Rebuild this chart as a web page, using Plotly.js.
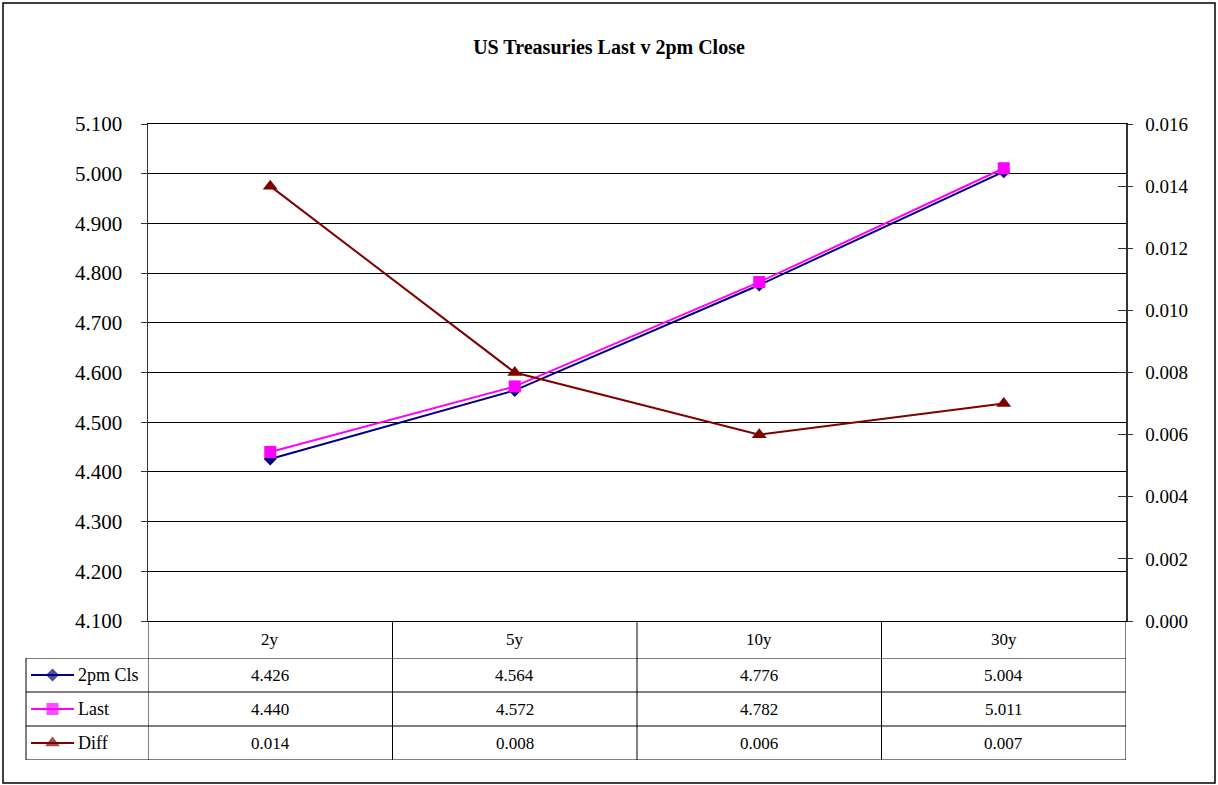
<!DOCTYPE html>
<html>
<head>
<meta charset="utf-8">
<script src="https://cdn.plot.ly/plotly-3.0.1.min.js"></script>
<style>html,body{margin:0;padding:0;background:#fff;}#chart{width:1218px;height:785px;}</style>
</head>
<body>
<div id="chart"></div>
<script>
// ---- data ----
const categories = ["2y", "5y", "10y", "30y"];
const seriesNames = ["2pm Cls", "Last", "Diff"];
const cls2pm = [4.426, 4.564, 4.776, 5.004];
const last = [4.440, 4.572, 4.782, 5.011];
const diff = [0.014, 0.008, 0.006, 0.007];
const chartTitle = "US Treasuries Last v 2pm Close";

// ---- layout constants (pixels) ----
const W = 1218, H = 785;
const PX = v => v / W;
const PY = v => 1 - v / H;
const FONT = "Liberation Serif, Times New Roman, serif";
const colors = ["#000080", "#FF00FF", "#800000"];
const symbols = ["diamond", "square", "triangle-up"];
const msizes = [10, 12, 13];
const seriesData = [cls2pm, last, diff];
const yaxes = ["y", "y", "y2"];

const traces = [];
seriesData.forEach((vals, i) => {
  traces.push({
    type: "scatter", mode: "lines+markers", name: seriesNames[i],
    x: categories, y: vals, xaxis: "x", yaxis: yaxes[i],
    line: {color: colors[i], width: 2},
    marker: {symbol: symbols[i], size: msizes[i], color: colors[i], line: {width: 0}},
    showlegend: false, hoverinfo: "skip"
  });
});
// legend keys in the data table (row index axis)
seriesNames.forEach((n, i) => {
  traces.push({
    type: "scatter", mode: "lines+markers", xaxis: "x3", yaxis: "y3",
    x: [5, 26.5, 48], y: [i, i, i],
    line: {color: colors[i], width: 2},
    marker: {symbol: symbols[i], size: [0, msizes[i], 0], color: colors[i], line: {width: 0}},
    showlegend: false, hoverinfo: "skip"
  });
});

const annotations = [];
const shapes = [];
const tableTop = 621, headBottom = 658, tableBottom = 760;
// header row
categories.forEach(c => {
  annotations.push({xref: "x", yref: "paper", x: c, y: PY((tableTop + headBottom) / 2),
    text: c, showarrow: false, xanchor: "center", yanchor: "middle",
    font: {family: FONT, size: 17, color: "#000"}});
});
// value rows
seriesData.forEach((vals, i) => {
  vals.forEach((v, j) => {
    annotations.push({xref: "x", yref: "y3", x: categories[j], y: i,
      text: v.toFixed(3), showarrow: false, xanchor: "center", yanchor: "middle",
      font: {family: FONT, size: 17, color: "#000"}});
  });
  annotations.push({xref: "x3", yref: "y3", x: 50, y: i,
    text: seriesNames[i], showarrow: false, xanchor: "left", yanchor: "middle",
    font: {family: FONT, size: 18, color: "#000"}});
});
// table lines
const lc = {color: "#000", width: 1};
for (let r = -0.5; r <= 2.5; r += 1) {
  shapes.push({type: "line", xref: "paper", yref: "y3", x0: PX(26), x1: PX(1126), y0: r, y1: r, line: lc});
}
for (let k = 0; k <= categories.length; k++) {
  shapes.push({type: "line", xref: "x", yref: "paper", x0: k - 0.5, x1: k - 0.5, y0: PY(tableTop), y1: PY(tableBottom), line: lc});
}
shapes.push({type: "line", xref: "paper", yref: "y3", x0: PX(26), x1: PX(26), y0: -0.5, y1: 2.5, line: lc});
// outer chart border
shapes.push({type: "rect", xref: "paper", yref: "paper", x0: PX(3), x1: PX(1215), y0: PY(783), y1: PY(3), line: {color: "#000", width: 1.5}});

const layout = {
  width: W, height: H,
  margin: {l: 0, r: 0, t: 0, b: 0, autoexpand: false},
  paper_bgcolor: "#fff", plot_bgcolor: "#fff",
  showlegend: false,
  title: {text: "<b>" + chartTitle + "</b>", x: 0.5, xanchor: "center", y: PY(47), yanchor: "middle",
    font: {family: FONT, size: 20, color: "#000"}},
  font: {family: FONT, color: "#000"},
  xaxis: {domain: [PX(148), PX(1126)], type: "category", categoryarray: categories, range: [-0.5, 3.5],
    showline: true, mirror: true, linecolor: "#000", linewidth: 1, ticks: "", showticklabels: false,
    showgrid: false, zeroline: false, fixedrange: true},
  yaxis: {domain: [PY(621), PY(124)], range: [4.1, 5.1], dtick: 0.1, tick0: 4.1, tickformat: ".3f",
    showline: true, linecolor: "#333", linewidth: 1.5, ticks: "outside", ticklen: 6, tickcolor: "#333",
    showgrid: true, gridcolor: "#000", gridwidth: 1, zeroline: false, ticklabelstandoff: 14,
    tickfont: {family: FONT, size: 21, color: "#000"}, fixedrange: true},
  yaxis2: {overlaying: "y", side: "right", anchor: "x", range: [0, 0.016], dtick: 0.002, tick0: 0, tickformat: ".3f",
    showline: true, linecolor: "#333", linewidth: 1.5, ticks: "outside", ticklen: 5, tickcolor: "#333",
    showgrid: false, zeroline: false, ticklabelstandoff: 9,
    tickfont: {family: FONT, size: 19, color: "#000"}, fixedrange: true},
  yaxis4: {overlaying: "y", side: "right", anchor: "x", range: [0, 0.016], dtick: 0.002, tick0: 0,
    showline: false, ticks: "inside", ticklen: 8, tickcolor: "#333", showticklabels: false,
    showgrid: false, zeroline: false, fixedrange: true},
  xaxis3: {domain: [PX(26), PX(148)], range: [0, 122], visible: false, fixedrange: true},
  yaxis3: {domain: [PY(tableBottom), PY(headBottom)], range: [2.5, -0.5], visible: false, fixedrange: true, anchor: "x3"},
  annotations: annotations,
  shapes: shapes
};
// empty trace so that yaxis4 is drawn
traces.push({type: "scatter", x: [], y: [], xaxis: "x", yaxis: "y4", showlegend: false, hoverinfo: "skip"});

Plotly.newPlot("chart", traces, layout, {staticPlot: true, displayModeBar: false});
</script>
</body>
</html>
